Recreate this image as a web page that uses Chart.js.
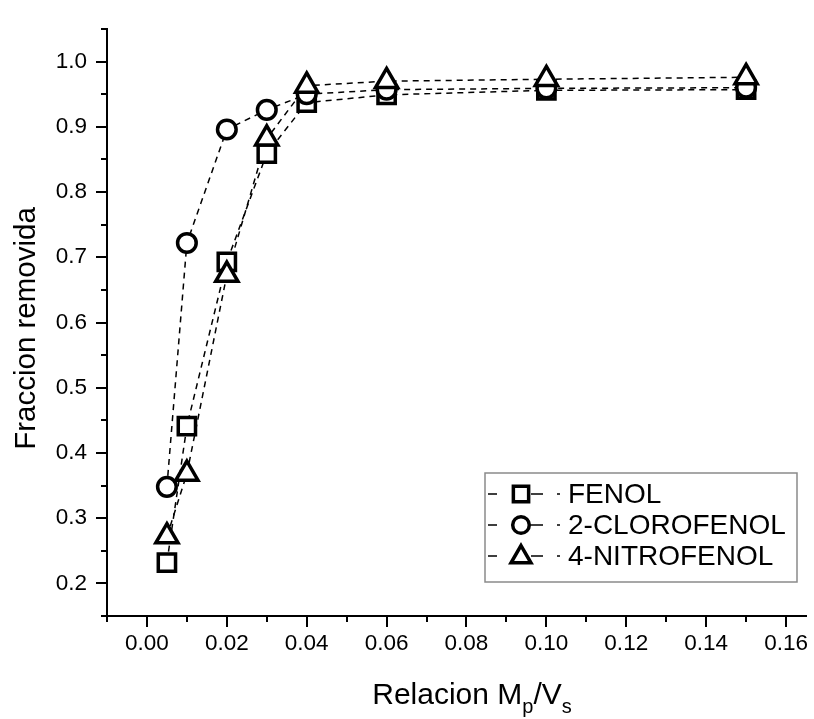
<!DOCTYPE html>
<html>
<head>
<meta charset="utf-8">
<script src="https://cdn.jsdelivr.net/npm/chart.js@4.4.1/dist/chart.umd.min.js"></script>
<style>
  html, body { margin: 0; padding: 0; background: #fff; }
  #wrap { width: 814px; height: 719px; }
</style>
</head>
<body>
<div id="wrap"><canvas id="chart" width="814" height="719"></canvas></div>
<script>
// Relacion Mp/Vs vs fraccion removida
const ratios = [0.005, 0.01, 0.02, 0.03, 0.04, 0.06, 0.10, 0.15];
const fenol = [0.232, 0.441, 0.693, 0.859, 0.937, 0.949, 0.956, 0.957];
const cloroFenol = [0.348, 0.722, 0.896, 0.926, 0.950, 0.957, 0.959, 0.960];
const nitroFenol = [0.272, 0.368, 0.673, 0.882, 0.963, 0.970, 0.973, 0.976];
const seriesNames = ['FENOL', '2-CLOROFENOL', '4-NITROFENOL'];
const seriesStyles = ['rect', 'circle', 'triangle'];

const xMajorTicks = [0, 0.02, 0.04, 0.06, 0.08, 0.10, 0.12, 0.14, 0.16];
const xTickLabels = ['0.00', '0.02', '0.04', '0.06', '0.08', '0.10', '0.12', '0.14', '0.16'];
const xMinorTicks = [-0.01, 0.01, 0.03, 0.05, 0.07, 0.09, 0.11, 0.13, 0.15];
const yMajorTicks = [0.2, 0.3, 0.4, 0.5, 0.6, 0.7, 0.8, 0.9, 1.0];
const yTickLabels = ['0.2', '0.3', '0.4', '0.5', '0.6', '0.7', '0.8', '0.9', '1.0'];
const yMinorTicks = [0.15, 0.25, 0.35, 0.45, 0.55, 0.65, 0.75, 0.85, 0.95, 1.05];

const FONT = "'Liberation Sans', Arial, sans-serif";
const radii = { rect: 12.2, circle: 9.3, triangle: 12.8 };

function toPoints(ys) { return ratios.map((x, i) => ({ x: x, y: ys[i] })); }

function buildTicks(major, minor) {
  return major.map(v => ({ value: v, major: true }))
    .concat(minor.map(v => ({ value: v, major: false })))
    .sort((a, b) => a.value - b.value);
}

function labelFor(value, major, labels) {
  const i = major.findIndex(m => Math.abs(m - value) < 1e-9);
  return i >= 0 ? labels[i] : '';
}

const allSeries = [fenol, cloroFenol, nitroFenol];

// lines first (drawn underneath), markers after
const lineSets = allSeries.map((ys, i) => ({
  label: seriesNames[i] + ' line',
  data: toPoints(ys),
  borderColor: '#000',
  borderWidth: 1.5,
  borderDash: [6, 5],
  pointRadius: 0,
  fill: false,
  tension: 0,
  order: 10 + i
}));
const pointSets = allSeries.map((ys, i) => ({
  label: seriesNames[i],
  data: toPoints(ys),
  showLine: false,
  pointStyle: seriesStyles[i],
  pointRadius: radii[seriesStyles[i]],
  pointBorderWidth: 3.5,
  pointBorderColor: '#000',
  pointBackgroundColor: '#fff',
  order: 2 - i
}));

// tick marks: long for major, short for minor
const tickMarks = {
  id: 'tickMarks',
  afterDraw(chart) {
    const ctx = chart.ctx;
    const xs = chart.scales.x, ys = chart.scales.y;
    const area = chart.chartArea;
    ctx.save();
    ctx.strokeStyle = '#000';
    ctx.lineWidth = 2;
    ctx.beginPath();
    xs.ticks.forEach(t => {
      const px = Math.round(xs.getPixelForValue(t.value));
      ctx.moveTo(px, area.bottom);
      ctx.lineTo(px, area.bottom + (t.major ? 11 : 6));
    });
    ys.ticks.forEach(t => {
      const py = Math.round(ys.getPixelForValue(t.value));
      ctx.moveTo(area.left, py);
      ctx.lineTo(area.left - (t.major ? 11 : 6), py);
    });
    ctx.stroke();
    ctx.restore();
  }
};

// axis titles with subscripts
const axisTitles = {
  id: 'axisTitles',
  afterDraw(chart) {
    const ctx = chart.ctx;
    const area = chart.chartArea;
    ctx.save();
    ctx.fillStyle = '#000';
    ctx.textBaseline = 'alphabetic';
    const big = '30px ' + FONT, small = '20px ' + FONT;
    const parts = [['Relacion M', big, 0], ['p', small, 9], ['/V', big, 0], ['s', small, 9]];
    let total = 0;
    parts.forEach(p => { ctx.font = p[1]; total += ctx.measureText(p[0]).width; });
    let x = 472 - total / 2;
    const base = 704;
    parts.forEach(p => {
      ctx.font = p[1];
      ctx.fillText(p[0], x, base + p[2]);
      x += ctx.measureText(p[0]).width;
    });
    ctx.translate(27, (area.top + area.bottom) / 2 + 6);
    ctx.rotate(-Math.PI / 2);
    ctx.font = '29.5px ' + FONT;
    ctx.textAlign = 'center';
    ctx.textBaseline = 'middle';
    ctx.fillText('Fraccion removida', 0, 0);
    ctx.restore();
  }
};

// boxed legend in lower right
const boxLegend = {
  id: 'boxLegend',
  afterDraw(chart) {
    const ctx = chart.ctx;
    const box = { left: 485, top: 473, right: 797, bottom: 582 };
    const rows = [494, 525, 556];
    ctx.save();
    ctx.fillStyle = '#fff';
    ctx.fillRect(box.left, box.top, box.right - box.left, box.bottom - box.top);
    ctx.strokeStyle = '#8a8a8a';
    ctx.lineWidth = 1.5;
    ctx.strokeRect(box.left, box.top, box.right - box.left, box.bottom - box.top);
    seriesNames.forEach((name, i) => {
      const y = rows[i];
      ctx.strokeStyle = '#000';
      ctx.lineWidth = 1.6;
      ctx.setLineDash([9, 34, 12, 14, 3, 100]);
      ctx.beginPath();
      ctx.moveTo(488, y);
      ctx.lineTo(562, y);
      ctx.stroke();
      ctx.setLineDash([]);
      ctx.fillStyle = '#fff';
      ctx.strokeStyle = '#000';
      ctx.lineWidth = 3.5;
      const st = seriesStyles[i];
      Chart.helpers.drawPoint(ctx, {
        pointStyle: st,
        radius: st === 'circle' ? 8.3 : (st === 'rect' ? 10.8 : 11.5),
        borderWidth: 3.5,
        rotation: 0
      }, 521, y + (st === 'triangle' ? 1 : 0));
      ctx.fillStyle = '#000';
      ctx.font = '28px ' + FONT;
      ctx.textAlign = 'left';
      ctx.textBaseline = 'middle';
      ctx.fillText(name, 568, y + 1);
    });
    ctx.restore();
  }
};

new Chart(document.getElementById('chart').getContext('2d'), {
  type: 'line',
  data: { datasets: lineSets.concat(pointSets) },
  options: {
    responsive: false,
    animation: false,
    devicePixelRatio: 1,
    layout: { autoPadding: false, padding: { left: 0, top: 29, right: 8, bottom: 0 } },
    plugins: { legend: { display: false }, tooltip: { enabled: false } },
    scales: {
      x: {
        type: 'linear',
        position: 'bottom',
        min: -0.01,
        max: 0.165,
        grid: { display: false, drawTicks: false },
        border: { display: true, color: '#000', width: 2 },
        afterBuildTicks: s => { s.ticks = buildTicks(xMajorTicks, xMinorTicks); },
        afterFit: s => {
          s.height = 103;
          s.paddingLeft = 0; s.paddingRight = 0; s.paddingTop = 0; s.paddingBottom = 0;
        },
        ticks: {
          autoSkip: false,
          maxRotation: 0,
          padding: 14,
          color: '#000',
          font: { family: FONT, size: 22.5 },
          callback: v => labelFor(v, xMajorTicks, xTickLabels)
        }
      },
      y: {
        type: 'linear',
        min: 0.15,
        max: 1.05,
        grid: { display: false, drawTicks: false },
        border: { display: true, color: '#000', width: 2 },
        afterBuildTicks: s => { s.ticks = buildTicks(yMajorTicks, yMinorTicks); },
        afterFit: s => {
          s.width = 107;
          s.paddingLeft = 0; s.paddingRight = 0; s.paddingTop = 0; s.paddingBottom = 0;
        },
        ticks: {
          autoSkip: false,
          padding: 20,
          color: '#000',
          font: { family: FONT, size: 22.5 },
          callback: v => labelFor(v, yMajorTicks, yTickLabels)
        }
      }
    }
  },
  plugins: [tickMarks, axisTitles, boxLegend]
});
</script>
</body>
</html>
